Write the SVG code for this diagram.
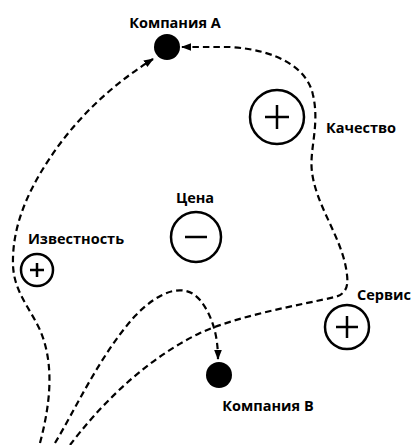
<svg xmlns="http://www.w3.org/2000/svg" width="413" height="445" viewBox="0 0 413 445">
  <style>
    .lbl { font-family: "Open Sans", "Liberation Sans", sans-serif; font-weight: bold; font-size: 14.5px; fill: #000; text-anchor: middle; }
    .ring { fill: #fff; stroke: #000; stroke-width: 2.5; }
    .sign { stroke: #000; stroke-width: 2.5; fill: none; }
    .dot { fill: #000; }
    .link { fill: none; stroke: #000; stroke-width: 2.2; stroke-dasharray: 6.5 4; }
  </style>
  <defs>
    <marker id="arrow" markerUnits="userSpaceOnUse" markerWidth="10" markerHeight="10" viewBox="0 0 10 10" refX="9" refY="5" orient="auto">
      <path d="M0,1.2 L10,5 L0,8.8 Z" fill="#000"/>
    </marker>
  </defs>

  <g id="connectors">
    <path class="link" marker-end="url(#arrow)" d="M40,443 C50,405 55,365 40,330 C30,308 14,292 13,265 C12,230 25,195 50,158 C75,120 110,86 153,59"/>
    <path class="link" marker-end="url(#arrow)" d="M55,443 C75,410 100,355 135,316 C160,290 185,282 200,300 C212,315 218,335 218,359"/>
    <path class="link" marker-end="url(#arrow)" d="M70,445 C95,412 140,362 200,333 C240,315 300,305 335,297 C350,293 348,280 346,268 C340,235 316,205 312,172 C309,150 320,125 313,95 C308,70 280,50 230,47 L182,47"/>
  </g>

  <g id="company-a">
    <circle class="dot" cx="167" cy="47" r="13"/>
    <text class="lbl" x="175" y="28">Компания А</text>
  </g>
  <g id="company-b">
    <circle class="dot" cx="219" cy="375" r="13"/>
    <text class="lbl" x="268" y="411">Компания В</text>
  </g>
  <g id="quality">
    <circle class="ring" cx="277" cy="117" r="27"/>
    <path class="sign" d="M265,117 H289 M277,105 V129"/>
    <text class="lbl" x="361" y="133">Качество</text>
  </g>
  <g id="price">
    <circle class="ring" cx="196" cy="237" r="25"/>
    <path class="sign" d="M185,237 H207"/>
    <text class="lbl" x="195" y="203">Цена</text>
  </g>
  <g id="awareness">
    <circle class="ring" cx="37" cy="270" r="16"/>
    <path class="sign" d="M30,270 H44 M37,263 V277"/>
    <text class="lbl" x="76" y="244">Известность</text>
  </g>
  <g id="service">
    <circle class="ring" cx="347" cy="327" r="22"/>
    <path class="sign" d="M336,327 H358 M347,316 V338"/>
    <text class="lbl" x="384" y="300">Сервис</text>
  </g>
</svg>
